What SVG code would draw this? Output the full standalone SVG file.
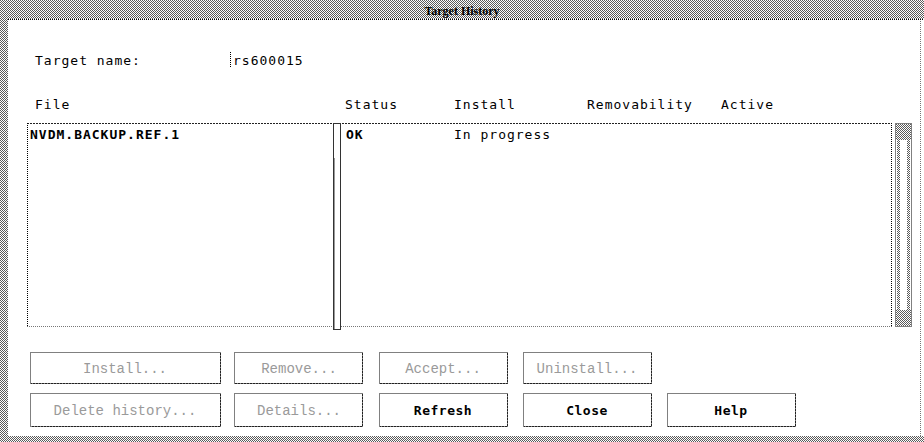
<svg xmlns="http://www.w3.org/2000/svg" width="924" height="442" viewBox="0 0 924 442">
  <defs>
    <!-- 50% stipple used for the window frame and scrollbar parts -->
    <pattern id="stipple" width="2" height="2" patternUnits="userSpaceOnUse">
      <rect width="2" height="2" fill="#ffffff"/>
      <rect x="0" y="0" width="1" height="1" fill="#5a5a5a"/>
      <rect x="1" y="1" width="1" height="1" fill="#5a5a5a"/>
    </pattern>
    <style>
      .mono { font-family: "DejaVu Sans Mono", "Liberation Mono", monospace; font-size: 13px; letter-spacing: 1px; fill: #000; }
      .mono-b { font-family: "DejaVu Sans Mono", "Liberation Mono", monospace; font-size: 13px; letter-spacing: 1px; font-weight: bold; fill: #000; }
      .title { font-family: "Liberation Serif", "DejaVu Serif", serif; font-size: 12px; font-weight: bold; fill: #000; }
      .btn-off { font-family: "Liberation Mono", "DejaVu Sans Mono", monospace; font-size: 14px; fill: #9a9a9a; text-anchor: middle; }
      .btn-on { font-family: "DejaVu Sans Mono", "Liberation Mono", monospace; font-size: 13px; letter-spacing: 0.5px; font-weight: bold; fill: #000; text-anchor: middle; }
      .dot { fill: none; stroke: #000; stroke-width: 1; stroke-dasharray: 1 1; }
      .dot-grey { fill: none; stroke: #777; stroke-width: 1; stroke-dasharray: 1 1; }
      .shade { fill: none; stroke: #222; stroke-width: 1; stroke-dasharray: 2 1; }
    </style>
  </defs>

  <!-- window frame -->
  <g id="window">
    <rect x="0" y="0" width="924" height="442" fill="#ffffff"/>
    <rect x="0" y="0" width="924" height="19" fill="url(#stipple)"/>
    <rect x="0" y="0" width="8" height="442" fill="url(#stipple)"/>
    <rect x="0" y="436" width="924" height="6" fill="url(#stipple)"/>
    <line x1="920.5" y1="19" x2="920.5" y2="436" class="dot-grey" stroke="#bbb"/>
    <line x1="8" y1="19.5" x2="924" y2="19.5" class="dot"/>
    <text x="462" y="14.5" class="title" text-anchor="middle">Target History</text>
  </g>

  <!-- target name field -->
  <g id="target-name">
    <text x="35" y="65" class="mono">Target name:</text>
    <line x1="230.5" y1="52" x2="230.5" y2="68" class="dot"/>
    <text x="233" y="65" class="mono">rs600015</text>
  </g>

  <!-- column headings -->
  <g id="headings">
    <text x="35" y="109" class="mono">File</text>
    <text x="345" y="109" class="mono">Status</text>
    <text x="454" y="109" class="mono">Install</text>
    <text x="587" y="109" class="mono">Removability</text>
    <text x="721" y="109" class="mono">Active</text>
  </g>

  <!-- history list -->
  <g id="history-list">
    <rect x="27" y="123" width="865" height="204" fill="#ffffff"/>
    <line x1="27" y1="123.5" x2="892" y2="123.5" class="shade"/>
    <line x1="27.5" y1="123" x2="27.5" y2="327" class="dot"/>
    <line x1="891.5" y1="123" x2="891.5" y2="327" class="dot"/>
    <line x1="27" y1="326.5" x2="892" y2="326.5" class="dot-grey"/>
    <text x="30" y="139" class="mono-b">NVDM.BACKUP.REF.1</text>
    <text x="346" y="139" class="mono-b">OK</text>
    <text x="454" y="139" class="mono">In progress</text>
  </g>

  <!-- column sash -->
  <g id="sash">
    <rect x="333.5" y="123.5" width="7" height="206" fill="#ffffff" stroke="#333" stroke-width="1"/>
    <line x1="334.5" y1="158" x2="334.5" y2="329" stroke="#999" stroke-width="1"/>
  </g>

  <!-- vertical scrollbar -->
  <g id="scrollbar">
    <rect x="895.5" y="123.5" width="16" height="203" fill="#ffffff" class="dot"/>
    <rect x="896" y="124" width="15" height="16" fill="url(#stipple)"/>
    <rect x="896" y="310" width="15" height="16" fill="url(#stipple)"/>
    <rect x="897" y="140" width="3" height="170" fill="url(#stipple)"/>
    <rect x="907" y="140" width="3" height="170" fill="url(#stipple)"/>
  </g>

  <!-- push buttons, first row -->
  <g id="btn-install">
    <rect x="30.5" y="352.5" width="190" height="31" class="dot"/>
    <polyline points="220.5,353 220.5,383.5 31,383.5" class="shade"/>
    <text x="125" y="373" class="btn-off">Install...</text>
  </g>
  <g id="btn-remove">
    <rect x="234.5" y="352.5" width="128" height="31" class="dot"/>
    <polyline points="362.5,353 362.5,383.5 235,383.5" class="shade"/>
    <text x="299" y="373" class="btn-off">Remove...</text>
  </g>
  <g id="btn-accept">
    <rect x="379.5" y="352.5" width="128" height="31" class="dot"/>
    <polyline points="507.5,353 507.5,383.5 380,383.5" class="shade"/>
    <text x="443" y="373" class="btn-off">Accept...</text>
  </g>
  <g id="btn-uninstall">
    <rect x="523.5" y="352.5" width="128" height="31" class="dot"/>
    <polyline points="651.5,353 651.5,383.5 524,383.5" class="shade"/>
    <text x="587" y="373" class="btn-off">Uninstall...</text>
  </g>

  <!-- push buttons, second row -->
  <g id="btn-delete-history">
    <rect x="30.5" y="393.5" width="190" height="33" class="dot"/>
    <polyline points="220.5,394 220.5,426.5 31,426.5" class="shade"/>
    <text x="125" y="415" class="btn-off">Delete history...</text>
  </g>
  <g id="btn-details">
    <rect x="234.5" y="393.5" width="128" height="33" class="dot"/>
    <polyline points="362.5,394 362.5,426.5 235,426.5" class="shade"/>
    <text x="299" y="415" class="btn-off">Details...</text>
  </g>
  <g id="btn-refresh">
    <rect x="379.5" y="393.5" width="128" height="33" class="dot"/>
    <polyline points="507.5,394 507.5,426.5 380,426.5" class="shade"/>
    <text x="443" y="415" class="btn-on">Refresh</text>
  </g>
  <g id="btn-close">
    <rect x="523.5" y="393.5" width="128" height="33" class="dot"/>
    <polyline points="651.5,394 651.5,426.5 524,426.5" class="shade"/>
    <text x="587" y="415" class="btn-on">Close</text>
  </g>
  <g id="btn-help">
    <rect x="667.5" y="393.5" width="128" height="33" class="dot"/>
    <polyline points="795.5,394 795.5,426.5 668,426.5" class="shade"/>
    <text x="731" y="415" class="btn-on">Help</text>
  </g>
</svg>
